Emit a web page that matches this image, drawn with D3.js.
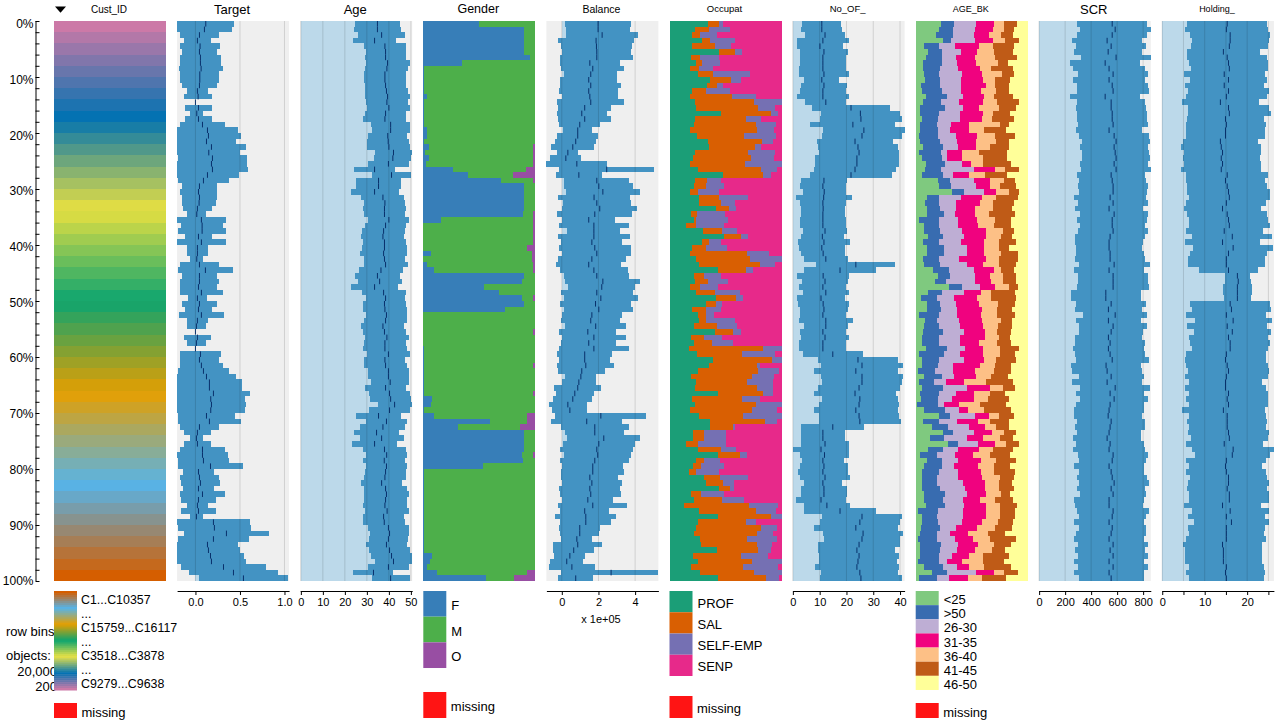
<!DOCTYPE html>
<html>
<head>
<meta charset="utf-8">
<script src="https://cdnjs.cloudflare.com/ajax/libs/d3/7.8.5/d3.min.js"></script>
<style>
  html, body { margin: 0; padding: 0; background: #fff; }
  svg { display: block; }
  text { font-family: "Liberation Sans", Arial, sans-serif; fill: #000; }
</style>
</head>
<body>
<svg width="1280" height="720"></svg>
<script>
// 100 row bins, 200 objects each. Numeric columns: bin mean and sd
const targetMean = [.116,.101,.045,.022,.052,.045,.056,.056,.064,.049,.049,.045,.022,.03,0,.034,.015,.034,.079,.135,.146,.124,.18,.15,.191,.18,.191,.135,.09,.045,.034,.045,.041,.022,.015,.067,.075,.075,.034,.067,.022,.022,.015,.045,.112,.045,.045,.034,.067,.022,
  .045,.034,.067,.022,.011,0,.022,.011,0,.056,.045,.067,.09,.124,.157,.157,.202,.172,.18,.172,.124,.157,.045,.022,.011,.022,.079,.079,.09,.169,.034,.045,.056,.034,.079,.034,.022,.034,.011,.202,.213,.348,.202,.135,.146,.169,.18,.315,.427,.539];
const targetSd = [.318,.311,.221,.154,.225,.199,.232,.232,.247,.217,.217,.199,.12,.157,0,.154,.071,.154,.255,.345,.367,.333,.39,.352,.39,.4,.4,.356,.288,.199,.21,.199,.195,.165,.105,.277,.236,.27,.154,.277,.12,.12,.071,.221,.311,.199,.221,.21,.243,.109,
  .199,.154,.255,.12,.109,0,.154,.109,0,.232,.221,.243,.288,.333,.367,.367,.412,.386,.39,.386,.322,.356,.221,.154,.075,.154,.255,.288,.288,.367,.176,.221,.221,.176,.255,.199,.12,.199,.075,.412,.412,.479,.4,.345,.356,.378,.39,.479,.495,.498];

const ageMean = [34.8,34.8,36.7,33.5,38.2,38.5,38.5,39.4,39.1,38.2,38.2,38.5,38.9,39.4,39.1,40,38.5,38.2,40.8,40.8,39.5,39.7,40,42.1,41.8,39.8,33.5,41.2,35.3,35.3,33.5,37.3,38.2,38,38,40,38.5,37.6,37.3,38,38,37.6,38,38.5,36.4,34.8,35.8,33.5,37.6,38.5,
  38,38.2,38.9,38.5,37.3,38,39.1,38.2,38.2,39.8,38.2,38.5,39.8,39.8,40.6,38.5,40.3,40.8,42.6,40.3,35.3,38.9,37.3,34.4,36.7,33.5,38,39,37.9,38.9,38.5,38.2,36.7,38.5,38.9,38.5,38.2,39.2,37.6,37.9,39.8,40.3,39.8,38.9,40.3,41.2,42.1,39.8,33,40.8];
const ageSd = [10.2,10.5,10.7,9.8,9.5,9.1,9.3,10,9.8,9.5,9.5,9.3,9.8,10.2,9.4,9.8,9.3,9.8,8.9,8.6,8.9,9.5,9.8,8.2,8.4,9.5,9.3,8.9,10.2,10.2,10.9,9.8,9.3,9.8,9.5,9.3,9.5,9.8,9.8,9.8,10.2,10.5,9.5,10,10.2,10.2,10,10.5,10,8.9,
  9.8,10,9.5,9.8,9.8,9.8,10,9.5,10,9.8,9.3,9.8,9.3,9.5,8.6,9.5,9.5,9.3,7.7,9.3,10.2,9.5,10.2,10.2,10,10.2,9.8,9.3,9.5,9.3,9.5,9.5,9.3,9.8,10.2,9.8,10,10,9.5,9.5,9.3,8.9,8.9,9.3,9.5,9.1,8.2,9.5,9.1,8.6];

// Balance is in units of 1e+05
const balanceMean = [1.98,1.98,2.2,1.87,1.89,1.91,1.91,1.53,1.69,1.58,1.47,1.58,1.47,1.53,1.58,1.25,1.09,1.25,.98,.87,.87,.76,.6,.33,.22,.82,2.45,.93,1.91,2.02,2.24,1.76,1.91,2.07,1.8,1.47,1.75,1.75,1.75,1.64,1.8,1.91,1.64,1.47,1.75,1.91,2.24,2.18,1.91,2.13,
  1.84,2.02,1.64,1.58,1.85,1.42,1.75,1.47,1.75,1.25,1.25,1.31,1.09,1.04,.93,.87,.71,.6,.33,.44,2.13,1.36,1.8,1.8,2.29,2.02,1.91,1.96,1.8,1.69,1.69,1.53,1.64,1.53,1.58,1.42,1.69,1.25,1.31,1.31,.98,.98,.82,.87,.65,.44,.27,.55,2.69,.76];
const balanceSd = [1.82,1.76,1.98,2.09,1.96,1.89,2,1.62,1.73,1.45,1.56,1.67,1.62,1.51,1.84,1.45,1.35,1.45,1.13,.8,1.13,1.13,1.18,.58,.85,1.67,2.6,1.24,1.78,1.89,2,1.98,1.84,2.05,2.05,1.45,1.89,1.45,1.95,1.67,1.95,1.89,1.84,1.78,1.84,1.78,2.05,1.84,1.95,2,
  1.96,1.89,1.62,1.62,1.67,1.56,1.73,1.51,1.89,1.51,1.4,1.56,1.29,.85,.91,1.29,1.02,1.07,1.02,.96,2.49,1.95,1.84,1.62,2,1.95,2,1.84,1.89,1.67,1.73,1.56,1.62,1.67,1.67,1.4,1.89,1.35,1.67,1.4,1.13,1.07,.85,1.35,1.13,.85,.91,1.24,2.71,.96];

const noOfMean = [10.8,10.8,12,11.2,10.1,11.6,11.2,11.2,11.2,11.6,10.8,11.6,11.2,11.2,12.3,21.7,25.2,25.4,22.4,26.5,25.8,23.2,24.3,24.7,23.9,23.9,23.2,21.7,11.6,11.2,11.7,11.5,11.2,11.3,11.2,11.2,11.2,12,11,11.6,10.8,11.3,12.3,23.5,17.6,11.3,12,11.2,12.3,10.5,
  11.3,11.6,11.2,12.3,12.3,11.2,12,11.2,11.2,14.9,24.3,25.8,23.5,25.8,25.8,24.7,23.2,25,24.7,23.5,24.7,25,14.9,11.2,11.2,12,10.5,11.8,11.2,11.6,11.2,12,11.2,11.6,11.6,10.5,12.7,17.6,25.8,25,23.5,26.2,25.8,24.7,23.9,24.7,24.3,23.9,25,25.4];
const noOfSd = [7.3,7.7,7.3,9.6,8.5,8.8,8.5,8.5,8.8,9.2,6.6,8.5,8.5,9.6,7.7,14.4,14.7,15.2,15.9,15.2,14.8,14.1,14.8,14.8,15.6,15.6,15.2,15.2,8.5,8.5,8,10.5,8.5,8.3,8.1,8.5,8.5,8.1,8,9.6,8.5,8.3,8.1,14.8,13.3,9.8,8.5,8.8,8.5,8.8,
  9.5,8.8,8.5,10,8.1,8.5,8.8,8.8,8.8,11.1,14.8,15.2,15.6,15.2,14.8,15.2,15.2,14.1,14.8,15.6,14.8,15.2,11.8,8.1,8.1,8.8,10.3,9.3,7.7,8.8,9.2,9.2,7,8.5,8.5,9.2,8.5,13.3,14.8,14.8,15.6,14.8,14.1,15.2,14.4,14.8,14.4,15.6,14.4,15.2];

const scrMean = [562,585,562,523,554,531,592,508,538,569,538,562,569,508,554,554,562,562,569,538,577,592,577,585,592,577,592,554,562,569,569,546,569,538,577,562,562,569,546,538,538,546,546,577,538,569,569,569,513,513,
  554,533,585,533,569,554,533,546,533,546,562,515,523,554,523,585,546,577,546,538,531,554,546,538,523,546,538,569,562,538,554,562,577,554,569,538,538,569,562,538,562,554,538,569,546,569,538,569,538,554];
const scrSd = [267,274,267,267,267,259,267,267,274,267,274,274,274,267,259,267,267,267,267,251,267,259,259,259,259,259,267,259,259,267,259,274,267,259,259,267,251,267,267,259,251,259,267,274,267,267,267,274,269,269,
  267,256,244,249,259,244,256,267,272,267,282,267,267,251,267,267,259,259,259,267,259,259,267,244,259,259,274,267,259,267,251,267,267,259,251,267,259,274,259,267,259,267,267,267,267,267,267,267,267,251];

const holdingMean = [15.3,15.1,16,16,15.8,14.4,15.3,15.6,15.8,14.6,15.6,14.6,15.6,15.1,13.7,15.6,15.8,14.9,15.1,14.9,14.9,13.7,13.9,14.2,13.9,14.2,13.9,15.3,14.9,15.3,15.6,15.8,15.1,14.2,15.3,15.6,15.8,14.6,16.5,14.2,16.7,15.6,15.1,15.1,15.6,17.7,17.9,17.7,17.7,17.7,
  16,16.3,15.1,16.7,15.3,16.5,15.6,16,16,15.1,14.9,15.3,15.6,15.1,14.9,14.9,15.6,15.3,15.6,14.4,15.3,15.3,15.3,15.6,15.8,14.6,16.7,16.5,15.1,14.9,15.1,15.6,15.6,15.3,15.8,15.8,14.2,16,15.1,16.3,15.1,15.1,15.1,14.2,14.4,14.4,14.4,15.1,14.9,15.1];
const holdingSd = [9.4,9.8,9.4,9.1,9.1,8.6,9.4,9.4,9.1,9.5,9.1,9.3,9.6,9.6,9.1,9.6,9.8,9.1,9.4,9.4,9.4,8.9,9.4,9.1,9.1,9.1,9.4,9.6,9.4,9.4,9.8,9.6,9.4,9.1,9.4,9.4,9.6,9.1,9.4,8.9,9.4,9.1,9.1,9.1,7,3,3,3.5,3.5,3.2,
  9.4,9.4,9.4,9.1,9.4,9.1,9.4,9.4,8.9,9.4,9.6,9.6,9.6,9.8,8.6,9.6,9.4,9.6,9.4,9.8,9.1,9.4,9.1,9.6,9.1,9.1,9.6,8.9,9.4,8.6,9.4,9.1,9.6,9.4,9.4,9.4,9.1,9.1,9.1,8.9,9.1,8.9,9.4,9.4,9.1,9.1,9.1,8.9,9.4,8.9];

// Categorical columns: percent of each bin per category
const genderF = [50,90.2,90.2,90.2,90.2,90.2,95.5,34.8,.9,.9,.9,.9,.9,3.6,.9,.9,.9,.9,.9,3.6,3.6,.9,5.4,1.8,5.4,2.7,26.8,40.2,69.6,90.2,90.2,90.2,90.2,90.2,89.3,16.1,0,0,0,0,0,7.1,0,3.6,9.8,90.2,88.4,54.5,67.9,88.4,
  90.2,73.2,0,0,0,0,0,0,.6,.6,.6,.6,.6,.6,.6,.6,.6,8,7.1,.9,9.8,59.8,31.2,90.2,90.2,90.2,90.2,88.4,89.3,53.6,.6,.6,.6,.6,.6,.6,.6,.6,.6,.6,.6,.6,.6,.6,.6,8,6.3,3.6,12.5,56.3];
const genderM = [50,9.8,9.8,9.8,9.8,9.8,4.5,65.2,99.1,99.1,99.1,99.1,99.1,96.4,99.1,99.1,99.1,99.1,99.1,96.4,96.4,99.1,92.8,96.4,92.8,95.5,65.2,40.2,28.6,9.8,9.8,9.8,9.8,9.8,8.9,82.1,98.2,98.2,98.2,98.2,92.9,90.2,97.3,94.6,88.4,9.8,11.6,45.5,32.1,9.8,
  9.8,26.8,100,100,100,98.2,100,100,99.4,99.4,99.4,97.6,99.4,99.4,99.4,99.4,97.6,92,92.9,99.1,83.1,33.1,55.4,9.8,9.8,9.8,9.8,9.8,10.7,46.4,99.4,99.4,99.4,99.4,99.4,99.4,99.4,99.4,99.4,99.4,99.4,99.4,99.4,99.4,99.4,92,93.7,96.4,80.4,24.9];
const genderO = [0,0,0,0,0,0,0,0,0,0,0,0,0,0,0,0,0,0,0,0,0,0,1.8,1.8,1.8,1.8,8,19.6,1.8,0,0,0,0,0,1.8,1.8,1.8,1.8,1.8,1.8,7.1,2.7,2.7,1.8,1.8,0,0,0,0,1.8,
  0,0,0,0,0,1.8,0,0,0,0,0,1.8,0,0,0,0,1.8,0,0,0,7.1,7.1,13.4,0,0,0,0,1.8,0,0,0,0,0,0,0,0,0,0,0,0,0,0,0,0,0,0,0,0,7.1,18.8];

const occProf = [34.8,23.2,20.5,28.6,20.5,44.6,19.6,24.1,17.9,25,36.6,33.9,20.5,17.9,23.2,24.1,45.5,23.2,22.3,17.9,25,33.9,35.7,23.2,21.4,17.9,25.9,47.3,23.2,22.3,17.9,25.9,26.8,41.1,18.8,22.3,14.3,29.5,49.1,28.6,20.5,17.9,24.1,26.8,42.9,22.3,23.2,17.9,24.1,42,
  33,20.5,25,25.9,22.3,40.2,19.6,22.3,17,25,38.4,35.7,25,18.8,23.2,23.2,42.9,20.5,23.2,17.9,25.9,36.6,36.6,21.4,21.4,14.3,25,42.9,24.1,21.4,17,30.4,33,44.6,18.8,22.3,12.5,25.9,42.9,25,24.1,22.3,26.8,27.7,42,21.4,25,18.8,26.8,42.9];
const occSal = [9.8,12.5,6.3,8,20.5,14.3,8,4.5,8,13.4,17.9,8.9,12.5,37.5,51.8,55.4,44.6,45.5,55.4,59.8,42,48.2,41.1,47.3,51.8,49.1,56.3,35.7,10.4,10.7,7.1,17.9,18.8,11.6,5.4,1.8,9.8,17,15.2,7.1,12.5,50.9,48.2,54.5,25.9,8.9,11.6,8.9,16.1,17,
  8.9,12.5,8,7.1,20.5,16.1,11.6,15.2,67,40.2,52.7,42.9,53.6,54.5,45.5,54.5,40.2,43.8,53.6,55.4,39.3,49.1,20.5,9.8,9.8,10.7,21.4,19.6,6.3,6.3,6.3,14.3,15.2,9.8,8.9,25,58.9,50.9,47.3,42.9,58,55.4,42,50,36.6,42,49.1,46.4,48.2,42.9];
const occSelf = [3.6,17.9,15.2,22.3,14.3,5.4,17,16.1,12.5,33.9,8.9,5.4,21.4,21.4,25,15.2,7.1,13.4,17.9,15.5,28.6,10.1,5.4,24.1,20.5,33,14.3,7.1,12.8,16.1,19.6,25.9,12.5,6.3,25,27.7,25,13.4,6.3,10.7,17.9,19.6,27.7,13.4,5.4,15.2,17,16.1,22.3,6.3,
  5.4,13.4,7.1,25.9,17.9,7.1,16.1,18.8,16.1,29.5,8.9,2.7,19.6,19.6,23.2,14.3,8.9,16.1,23.2,23.2,34.8,10.7,1.8,18.8,18.8,25,13.4,7.1,14.3,21.4,20.5,25.9,9.8,3.6,21.4,19.6,25.9,17.9,9.8,8.9,14.3,14.3,26.8,13.4,11.6,24.1,25.9,31.3,25,11.9];
const occSenp = [51.8,46.4,58,41.1,44.7,35.7,55.4,55.4,61.6,27.7,36.6,51.8,45.6,23.2,0,5.4,2.7,17.9,4.5,6.8,4.5,7.7,17.9,5.4,6.3,0,3.6,9.8,53.6,50.9,55.4,30.3,42,41,50.9,48.2,50.9,40.2,29.5,53.6,49.1,11.6,0,5.4,25.9,53.6,48.2,57.1,37.5,34.8,
  52.7,53.6,59.8,41.1,39.3,36.6,52.7,43.7,0,5.4,0,18.8,1.8,7.1,8,8,8,19.6,0,3.6,0,3.6,41.1,50,50,50,40.2,30.4,55.4,50.9,56.3,29.5,42,42,50.9,33.1,2.7,5.3,0,23.2,3.6,8,4.4,8.9,9.8,12.5,0,3.5,0,2.4];

const ageLt25 = [22.3,20.5,17.9,24.1,7.1,10.7,8.9,6.3,6.3,7.1,8,4.5,5.4,8.9,6.3,3.6,3.6,5.4,3.6,3.6,2.7,3.6,6.3,2.7,5.4,8.9,8,5.4,19.6,20.5,32.1,9.8,8,9.8,9.8,2.7,7.1,7.1,10.7,6.3,9.8,9.8,6.3,7.1,15.2,19.6,17,29.5,10.7,4.5,
  9.8,9.8,2.7,8,7.1,6.3,5.4,5.4,8.9,2.7,5.4,5.4,1.8,7.1,2.7,5.4,3.6,4.5,.9,7.1,20.5,6.3,14.3,24.1,12.5,28.6,10.7,3.6,9.8,7.1,5.4,5.4,5.4,5.4,7.1,7.1,8.9,1.8,5.4,5.4,4.5,3.6,1.8,3.6,3.6,3.6,1.8,7.1,14.3,2.7];
const ageGt50 = [11.6,12.5,15.2,7.1,13.4,12.5,14.3,17,15.2,13.4,13.4,17,17.9,18.8,16.1,22.3,17,14.3,15.2,16.1,17,17.9,17.9,19.6,17.9,17,14.3,18.8,10.7,10.7,10.7,10.7,12.5,11.6,15.2,17.9,13.4,14.3,13.4,14.3,15.2,15.2,14.3,14.3,14.3,10.7,9.8,11.6,12.5,14.3,
  11.6,12.5,17.9,10.7,13.4,17.9,15.2,15.2,18.8,22.3,15.2,14.3,15.2,16.1,13.4,18.8,17,15.2,18.8,18.8,9.8,14.3,14.3,8.9,12.5,8.9,13.4,15.2,13.4,16.1,15.2,13.4,13.4,16.1,18.8,17,17,17.9,13.4,14.3,17,15.2,17,18.8,17.9,17,18.8,17,13.4,16.1];
const age26to30 = [19.6,19.6,18.8,21.4,14.3,17,12.5,13.4,16.1,20.5,18.8,18.8,17,14.3,16.1,16.1,18.8,19.6,12.5,10.7,16.1,15.2,13.4,5.4,4.5,15.2,29.5,8.9,21.4,22.3,17.9,19.6,15.2,14.3,9.8,17,17,19.6,18.8,19.6,20.5,20.5,17.9,24.1,22.3,22.3,25.9,16.1,19.6,15.2,
  14.3,14.3,16.1,19.6,18.8,18.8,18.8,18.8,16.1,14.3,22.3,13.4,16.1,10.7,10.7,21.4,15.2,12.5,5.4,12.5,22.3,16.1,18.8,18.8,20.5,17.9,13.4,16.1,14.3,10.7,17,18.8,23.2,22.3,19.6,17.9,17,22.3,23.2,21.4,14.3,11.6,16.1,15.2,15.2,11.6,7.1,12.5,25.9,10.7];
const age31to35 = [16.1,16.1,13.4,16.1,21.4,14.3,17,17,19.6,17.9,19.6,22.3,17.9,18.8,21.4,14.3,20.5,19.6,16.1,17,18.8,17,16.1,13.4,13.4,8,18.8,14.3,14.3,12.5,10.7,18.8,21.4,17,17.9,17,17.9,21.4,19.6,20.5,15.2,15.2,24.1,14.3,17.9,13.4,14.3,13.4,15.2,20.5,
  20.5,22.3,21.4,20.5,20.5,18.8,22.3,17,16.1,20.5,17.9,24.1,19.6,19.6,16.1,20.5,16.1,19.6,13.4,8,12.5,18.8,14.3,16.1,14.3,15.2,18.8,16.1,20.5,21.4,20.5,21.4,19.6,17.9,17,15.2,19.6,20.5,20.5,17.9,18.8,16.1,16.1,17.9,16.1,15.2,13.4,10.7,16.1,17];
const age36to40 = [8.9,9.8,10.7,10.7,12.5,15.2,17.9,19.6,9.8,17.9,10.7,8,13.4,8.9,12.5,17.9,8.9,8.9,27.7,13.4,16.1,17.9,12.5,15.2,18.8,10.7,8.9,14.3,12.5,8.9,11.6,12.5,11.6,16.1,12.5,16.1,14.3,15.2,13.4,13.4,13.4,15.2,11.6,14.3,6.3,11.6,10.7,12.5,8.9,12.5,
  17,13.4,14.3,17,13.4,10.7,12.5,16.1,15.2,15.2,10.7,13.4,17,13.4,19.6,11.6,14.3,12.5,18.8,14.3,8.9,10.7,9.8,10.7,15.2,9.8,12.5,15.2,13.4,14.3,11.6,16.1,12.5,12.5,13.4,13.4,12.5,12.5,12.5,14.3,16.1,17.9,15.2,14.3,15.2,12.5,18.8,13.4,8.9,12.5];
const age41to45 = [11.6,8.9,10.7,12.5,18.8,17,19.6,8.9,19.6,10.7,13.4,12.5,11.6,17,19.6,15.2,15.2,19.6,8,19.6,17.9,11.6,17,25,21.4,25,12.5,19.6,9.8,14.3,8.9,19.6,18.8,17,23.2,14.3,15.2,9.8,9.8,15.2,8.9,15.2,17,15.2,11.6,11.6,11.6,8,21.4,22.3,
  15.2,13.4,16.1,9.8,12.5,12.5,9.8,12.5,17,13.4,17.9,14.3,15.2,15.2,24.1,10.7,13.4,18.8,23.2,24.1,13.4,17,11.6,10.7,11.6,11.6,17.9,17.9,17.9,14.3,18.8,12.5,11.6,13.4,8,16.1,15.2,13.4,13.4,13.4,15.2,15.2,23.2,15.2,11.6,23.2,18.8,24.1,12.5,21.4];
const age46to50 = [9.8,12.5,13.4,8,12.5,13.4,9.8,17.9,13.4,12.5,16.1,17,17,13.4,8,10.7,16.1,12.5,17,19.6,11.6,17,17,18.8,18.8,15.2,8,18.8,11.6,10.7,8,8.9,12.5,14.3,11.6,15.2,15.2,12.5,14.3,10.7,17,8.9,8.9,10.7,12.5,10.7,10.7,8.9,11.6,10.7,
  11.6,14.3,11.6,14.3,14.3,15.2,16.1,15.2,8,11.6,10.7,15.2,15.2,17.9,13.4,11.6,20.5,17,19.6,15.2,12.5,17,17,10.7,13.4,8,13.4,16.1,10.7,16.1,11.6,12.5,14.3,12.5,16.1,13.4,9.8,11.6,11.6,13.4,14.3,20.5,10.7,15.2,20.5,17,21.4,15.2,8.9,19.6];

const custStops = ["#cc79a7","#0072b2","#e8e040","#0ca470","#e69f00","#56b4e9","#d55e00"];
const custLabels = ["C1...C10357","...","C15759...C16117","...","C3518...C3878","...","C9279...C9638"];
const percentLabels = ["0%","10%","20%","30%","40%","50%","60%","70%","80%","90%","100%"];

const svg = d3.select("svg");
const plotTop = 21;
const plotBottom = 581;
const panelW = 112;
const panelX = i => 54 + 123.1 * i;
const axisY = 591;

const y = d3.scaleBand().domain(d3.range(100)).range([plotTop, plotBottom]);
const yPct = d3.scaleLinear().domain([0, 100]).range([plotTop, plotBottom]);
// the percent labels sit a bit lower than their ticks near the top
const yPctLabel = d3.scaleLinear().domain([0, 100]).range([24, 581]);

// Percent axis
svg.append("g")
  .attr("transform", "translate(35.5,0)")
  .call(d3.axisRight(yPct).tickValues(d3.range(0, 101, 2)).tickSize(4).tickFormat(""))
  .call(g => g.select(".domain").attr("d", `M0.5,${plotTop}V${plotBottom}`));

svg.selectAll("text.pct")
  .data(percentLabels)
  .enter()
  .append("text")
  .attr("class", "pct")
  .attr("x", 33.5)
  .attr("y", (d, i) => yPctLabel(i * 10))
  .attr("dy", "0.35em")
  .attr("text-anchor", "end")
  .attr("font-size", 12)
  .text(d => d);

function title(i, text, size) {
  svg.append("text")
    .attr("x", panelX(i) + panelW / 2 - 1)
    .attr("y", 9)
    .attr("dy", "0.35em")
    .attr("text-anchor", "middle")
    .attr("font-size", size)
    .text(text);
}

// Sort key column
const custBands = d3.range(50);
const custColor = d3.scaleLinear()
  .domain(custStops.map((c, i) => i * 49 / 6))
  .range(custStops);
const yBand = d3.scaleBand().domain(custBands).range([plotTop, plotBottom]);

title(0, "Cust_ID", 10);
svg.append("path")
  .attr("d", d3.line()([[55, 6.5], [66, 6.5], [60.5, 12.7]]) + "Z")
  .attr("fill", "#000");
svg.selectAll("rect.cust")
  .data(custBands)
  .enter()
  .append("rect")
  .attr("class", "cust")
  .attr("x", panelX(0))
  .attr("y", d => yBand(d))
  .attr("width", panelW)
  .attr("height", yBand.bandwidth())
  .attr("fill", d => custColor(d))
  .attr("shape-rendering", "crispEdges");

// Row count notes, partly covered by the colour key as in the original
[["row bins:", 6, 631, "start"], ["objects:", 6, 655, "start"], ["20,000", 57, 671, "end"], ["200", 57, 686, "end"]]
  .forEach(([t, x, yy, anchor]) => {
    svg.append("text").attr("x", x).attr("y", yy).attr("dy", "0.35em")
      .attr("text-anchor", anchor).attr("font-size", 13).text(t);
  });

const keyY = d3.scaleBand().domain(d3.range(50)).range([591, 690]);
svg.selectAll("rect.key")
  .data(d3.range(50))
  .enter()
  .append("rect")
  .attr("class", "key")
  .attr("x", 54)
  .attr("y", d => keyY(d))
  .attr("width", 23)
  .attr("height", keyY.bandwidth() + 0.5)
  .attr("fill", d => custColor(49 - d));
const keyLabelY = [599.3, 614, 627.3, 642, 656, 669.5, 684];
custLabels.forEach((t, i) => {
  svg.append("text").attr("x", 81).attr("y", keyLabelY[i]).attr("dy", "0.35em")
    .attr("font-size", 12.4).text(t);
});
missingKey(54, 703);

function missingKey(x, y0) {
  svg.append("rect")
    .attr("x", x).attr("y", y0)
    .attr("width", 23).attr("height", 718 - y0)
    .attr("fill", "#ff1414");
  svg.append("text")
    .attr("x", x + 27.5).attr("y", (y0 + 718) / 2 + 1.5)
    .attr("dy", "0.35em")
    .attr("font-size", 13)
    .text("missing");
}

// Numeric columns: light bar to mean - sd, dark bar mean +- sd, tick at mean
function numericColumn(i, name, size, means, sds, domain, ticks, format) {
  const x0 = panelX(i);
  const x = d3.scaleLinear().domain(domain).range([x0, x0 + panelW]).clamp(true);
  const zero = x(0);
  const g = svg.append("g");
  const rows = means.map((m, b) => ({ b, m, lo: m - sds[b], hi: m + sds[b] }));

  title(i, name, size);

  g.append("rect")
    .attr("x", x0).attr("y", plotTop)
    .attr("width", panelW).attr("height", plotBottom - plotTop)
    .attr("fill", "#efefef");

  g.selectAll("rect.light")
    .data(rows.filter(d => d.lo > 0))
    .enter()
    .append("rect")
    .attr("class", "light")
    .attr("x", zero)
    .attr("y", d => y(d.b))
    .attr("width", d => x(d.lo) - zero)
    .attr("height", y.bandwidth())
    .attr("fill", "#bcd9ea")
    .attr("shape-rendering", "crispEdges");

  g.selectAll("rect.dark")
    .data(rows)
    .enter()
    .append("rect")
    .attr("class", "dark")
    .attr("x", d => x(d.lo))
    .attr("y", d => y(d.b))
    .attr("width", d => x(d.hi) - x(d.lo))
    .attr("height", y.bandwidth())
    .attr("fill", "#4393c3")
    .attr("shape-rendering", "crispEdges");

  g.selectAll("line.grid")
    .data(ticks)
    .enter()
    .append("line")
    .attr("class", "grid")
    .attr("x1", d => x(d)).attr("x2", d => x(d))
    .attr("y1", plotTop).attr("y2", plotBottom)
    .attr("stroke", "#000")
    .attr("stroke-opacity", 0.13);

  g.selectAll("line.mean")
    .data(rows)
    .enter()
    .append("line")
    .attr("class", "mean")
    .attr("x1", d => x(d.m)).attr("x2", d => x(d.m))
    .attr("y1", d => y(d.b)).attr("y2", d => y(d.b) + y.bandwidth())
    .attr("stroke", "#08306b")
    .attr("stroke-width", 1);

  svg.append("g")
    .attr("transform", `translate(0,${axisY})`)
    .call(d3.axisBottom(x).tickValues(ticks).tickSize(4).tickSizeOuter(0).tickFormat(format))
    .call(a => a.selectAll("text").attr("font-size", 11).attr("font-family", null).attr("y", 7.5));
}

// Categorical columns: stacked shares of each bin
function stackColumn(i, name, size, labels, series, colors, keyH, keyTop) {
  const x0 = panelX(i);
  const x = d3.scaleLinear().domain([0, 1]).range([x0, x0 + panelW]);
  const rows = d3.range(100).map(b => {
    const r = { b };
    labels.forEach((l, k) => { r[l] = series[k][b]; });
    return r;
  });
  const layers = d3.stack().keys(labels).offset(d3.stackOffsetExpand)(rows);

  title(i, name, size);

  const g = svg.append("g");
  g.selectAll("g")
    .data(layers)
    .enter()
    .append("g")
    .attr("fill", (d, k) => colors[k])
    .selectAll("rect")
    .data(d => d)
    .enter()
    .append("rect")
    .attr("x", d => x(d[0]))
    .attr("y", d => y(d.data.b))
    .attr("width", d => x(d[1]) - x(d[0]))
    .attr("height", y.bandwidth())
    .attr("shape-rendering", "crispEdges");

  labels.forEach((l, k) => {
    svg.append("rect")
      .attr("x", x0).attr("y", 591 + k * keyH)
      .attr("width", 23).attr("height", keyH)
      .attr("fill", colors[k]);
    svg.append("text")
      .attr("x", x0 + 28).attr("y", 591 + k * keyH + keyH / 2 + 1.5)
      .attr("dy", "0.35em")
      .attr("font-size", 13)
      .text(l);
  });
  missingKey(x0, keyTop);
}

numericColumn(1, "Target", 13, targetMean, targetSd, [-0.206, 1.052], [0, 0.5, 1], d3.format(".1f"));
numericColumn(2, "Age", 13, ageMean, ageSd, [-0.3, 50.6], [0, 10, 20, 30, 40, 50], d3.format("d"));
stackColumn(3, "Gender", 12.5, ["F", "M", "O"], [genderF, genderM, genderO],
  ["#377eb8", "#4daf4a", "#984ea3"], 25.67, 692);
numericColumn(4, "Balance", 10.5, balanceMean, balanceSd, [-0.84, 5.27], [0, 2, 4], d3.format("d"));
svg.append("text")
  .attr("x", 601).attr("y", 619).attr("dy", "0.35em")
  .attr("text-anchor", "middle").attr("font-size", 11)
  .text("x 1e+05");
stackColumn(5, "Occupat", 9.5, ["PROF", "SAL", "SELF-EMP", "SENP"], [occProf, occSal, occSelf, occSenp],
  ["#1b9e77", "#d95f02", "#7570b3", "#e7298a"], 21.25, 696);
numericColumn(6, "No_OF_", 9.5, noOfMean, noOfSd, [-0.1, 41.7], [0, 10, 20, 30, 40], d3.format("d"));
stackColumn(7, "AGE_BK", 9, ["<25", ">50", "26-30", "31-35", "36-40", "41-45", "46-50"],
  [ageLt25, ageGt50, age26to30, age31to35, age36to40, age41to45, age46to50],
  ["#7fc97f", "#386cb0", "#beaed4", "#f0027f", "#fdc086", "#bf5b17", "#ffff99"], 14.14, 703);
numericColumn(8, "SCR", 13, scrMean, scrSd, [-2.5, 859], [0, 200, 400, 600, 800], d3.format("d"));
numericColumn(9, "Holding_", 9, holdingMean, holdingSd, [-0.08, 26.3], [0, 5, 10, 15, 20, 25],
  d => (d % 10 === 0 ? d : ""));
</script>
</body>
</html>
